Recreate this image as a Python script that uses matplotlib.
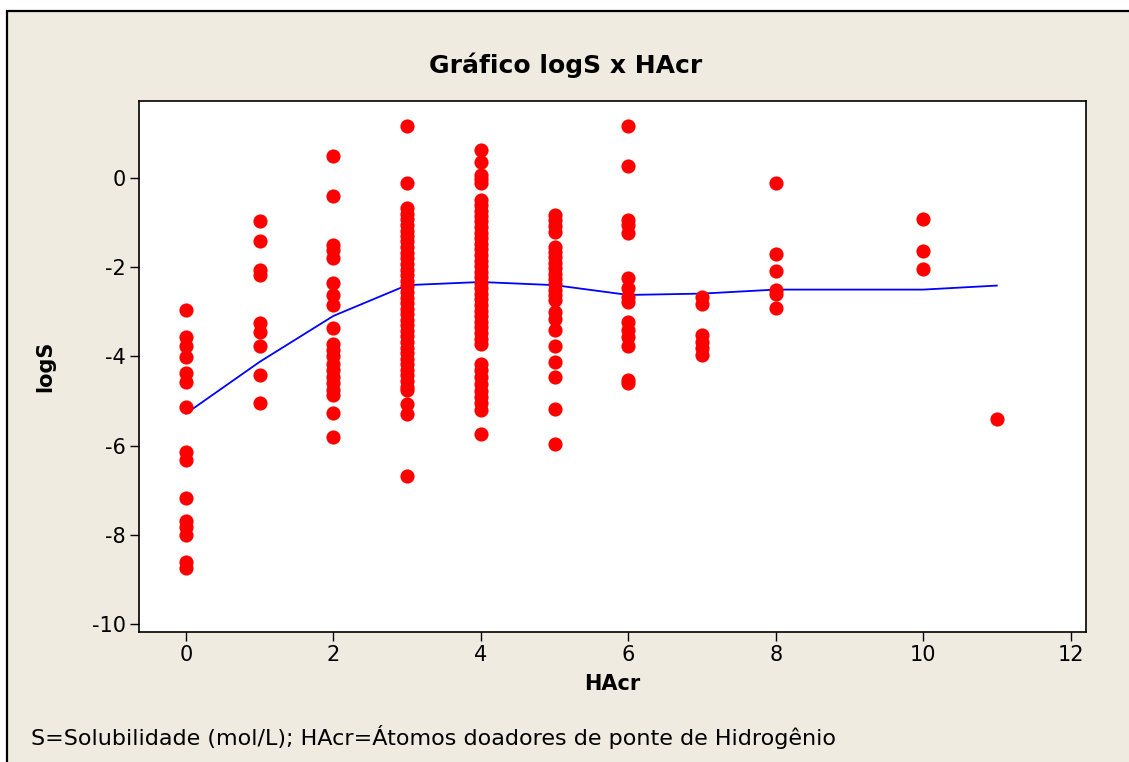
import matplotlib
matplotlib.use("Agg")
import numpy as np
from matplotlib import pyplot as plt
from matplotlib.patches import Rectangle

plt.rcParams['font.family'] = ['DejaVu Sans']
plt.rcParams['axes.unicode_minus'] = False

# dados (HAcr -> valores de logS)
hacr_0 = [-2.96, -3.57, -3.77, -4.02, -4.38, -4.57, -5.13, -6.14, -6.32, -7.17,
          -7.68, -7.83, -8.0, -8.6, -8.75]
hacr_1 = [-0.96, -1.41, -2.06, -2.17, -3.24, -3.44, -3.77, -4.42, -5.04]
hacr_2 = [0.49, -0.40, -1.50, -1.62, -1.80, -2.35, -2.62, -2.85, -3.37, -3.71,
          -3.86, -4.0, -4.16, -4.3, -4.46, -4.6, -4.75, -4.87, -5.26, -5.8]
hacr_3 = [1.17, -0.12, -0.68, -0.80, -0.92, -1.05, -1.18, -1.30, -1.42, -1.55,
          -1.68, -1.80, -1.93, -2.05, -2.18, -2.30, -2.42, -2.55, -2.68, -2.80,
          -2.93, -3.05, -3.18, -3.30, -3.42, -3.55, -3.68, -3.80, -3.93, -4.05,
          -4.18, -4.30, -4.42, -4.55, -4.68, -4.75, -5.07, -5.28, -6.68]
hacr_4 = [0.63, 0.37, 0.07, -0.02, -0.10, -0.49, -0.61, -0.73, -0.85, -0.97,
          -1.10, -1.22, -1.35, -1.47, -1.60, -1.72, -1.85, -1.97, -2.10, -2.22,
          -2.35, -2.47, -2.60, -2.72, -2.85, -2.97, -3.10, -3.22, -3.35, -3.47,
          -3.60, -3.71, -4.16, -4.30, -4.45, -4.62, -4.78, -4.92, -5.05, -5.20,
          -5.75]
hacr_5 = [-0.83, -0.95, -1.08, -1.20, -1.54, -1.66, -1.78, -1.90, -2.02, -2.14,
          -2.26, -2.38, -2.50, -2.62, -2.74, -3.00, -3.15, -3.41, -3.77, -4.12,
          -4.46, -5.17, -5.97]
hacr_6 = [1.17, 0.28, -0.93, -1.05, -1.24, -2.25, -2.47, -2.66, -2.77, -3.22,
          -3.41, -3.56, -3.77, -4.52, -4.60]
hacr_7 = [-2.66, -2.83, -3.52, -3.67, -3.82, -3.97]
hacr_8 = [-0.12, -1.71, -2.08, -2.50, -2.59, -2.92]
hacr_10 = [-0.92, -1.64, -2.04]
hacr_11 = [-5.40]

columns = {0: hacr_0, 1: hacr_1, 2: hacr_2, 3: hacr_3, 4: hacr_4, 5: hacr_5,
           6: hacr_6, 7: hacr_7, 8: hacr_8, 10: hacr_10, 11: hacr_11}

# curva suavizada (lowess)
lowess_x = [0, 1, 2, 3, 4, 5, 6, 7, 8, 10, 11]
lowess_y = [-5.28, -4.12, -3.09, -2.40, -2.33, -2.40, -2.62, -2.59, -2.50, -2.50, -2.41]

W, H = 1129, 762
fig = plt.figure(figsize=(W / 100, H / 100), dpi=100, facecolor='white')

# moldura bege
fig.patches.append(Rectangle((7 / W, -0.1), 1.2, 1 - 11 / H + 0.1,
                             transform=fig.transFigure, facecolor='#EFEBE0',
                             edgecolor='black', linewidth=1.6, zorder=-1))

ax = fig.add_axes([139 / W, 1 - 632 / H, (1086 - 139) / W, (632 - 101) / H])
ax.set_zorder(2)
ax.set_facecolor('white')

xs = []
ys = []
for k, vals in columns.items():
    xs += [k] * len(vals)
    ys += vals

ax.plot(xs, ys, 'o', color='#FF0000', markersize=10.2, markeredgewidth=0, zorder=3)
ax.plot(lowess_x, lowess_y, color='#0000FF', linewidth=1.3, zorder=2)

ax.set_xlim(-0.638, 12.21)
ax.set_ylim(-10.18, 1.73)
ax.set_xticks(np.arange(0, 13, 2))
ax.set_yticks(np.arange(-10, 1, 2))

ax.tick_params(direction='out', length=6.5, width=1, labelsize=15, pad=3, color='black')
for s in ax.spines.values():
    s.set_linewidth(1.2)

ax.set_xlabel('HAcr', fontsize=15, fontweight='bold', labelpad=6)
ax.set_ylabel('logS', fontsize=15, fontweight='bold')
ax.yaxis.set_label_coords((55 - 139) / (1086 - 139), 0.5)

fig.text(566 / W, 1 - 65 / H, 'Gráfico logS x HAcr', fontsize=18, fontweight='bold',
         ha='center', va='center')
fig.text(31 / W, 1 - 737 / H,
         'S=Solubilidade (mol/L); HAcr=Átomos doadores de ponte de Hidrogênio',
         fontsize=16, ha='left', va='center')

plt.savefig('out.png', dpi=100, facecolor=fig.get_facecolor())
